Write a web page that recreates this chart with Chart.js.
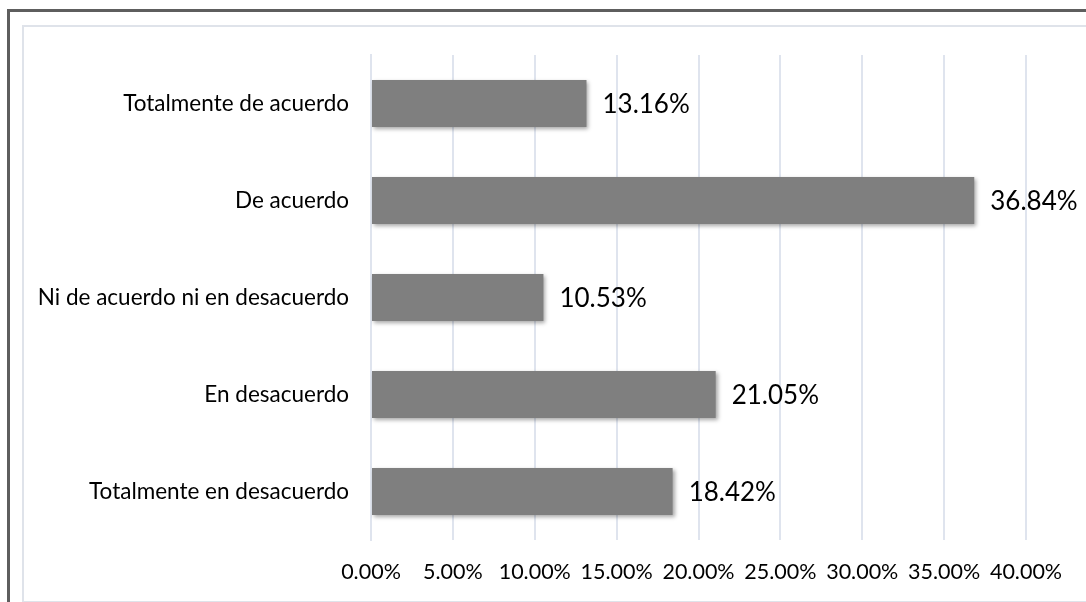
<!DOCTYPE html>
<html>
<head>
<meta charset="utf-8">
<script src="https://cdn.jsdelivr.net/npm/chart.js@4"></script>
<style>
  html, body { margin: 0; padding: 0; background: #fff; overflow: hidden; }
  #wrap { position: relative; width: 1086px; height: 602px; }
  #outer { position: absolute; left: 7px; top: 9px; width: 1100px; height: 620px;
           border-left: 3px solid #5e5e5e; border-top: 3px solid #5e5e5e; }
  #inner { position: absolute; left: 22px; top: 25px; width: 1100px; height: 574px;
           border: 2px solid #dfe3ea; }
  canvas { position: absolute; left: 0; top: 0; }
</style>
</head>
<body>
<div id="wrap">
  <div id="outer"></div>
  <div id="inner"></div>
  <canvas id="barChart" width="1086" height="602"></canvas>
</div>
<script>
// Datos del gráfico
const categorias = [
  "Totalmente de acuerdo",
  "De acuerdo",
  "Ni de acuerdo ni en desacuerdo",
  "En desacuerdo",
  "Totalmente en desacuerdo"
];
const porcentajes = [13.16, 36.84, 10.53, 21.05, 18.42];
const etiquetas = ["13.16%", "36.84%", "10.53%", "21.05%", "18.42%"];
const ticksX = [0, 5, 10, 15, 20, 25, 30, 35, 40];

const FONT = "Lato, 'Liberation Sans', sans-serif";

// Sombra de las barras + etiquetas de datos
const sombraPlugin = {
  id: "sombra",
  beforeDatasetsDraw(chart) {
    const ctx = chart.ctx;
    ctx.save();
    ctx.shadowColor = "rgba(0,0,0,0.35)";
    ctx.shadowBlur = 4;
    ctx.shadowOffsetX = 2;
    ctx.shadowOffsetY = 2;
  },
  afterDatasetsDraw(chart) {
    const ctx = chart.ctx;
    ctx.restore();
    const meta = chart.getDatasetMeta(0);
    ctx.save();
    ctx.font = "26px " + FONT;
    ctx.fillStyle = "#000";
    ctx.textAlign = "left";
    ctx.textBaseline = "middle";
    meta.data.forEach((bar, i) => {
      ctx.fillText(etiquetas[i], bar.x + 16, bar.y + 1);
    });
    ctx.restore();
  }
};

const ctx = document.getElementById("barChart").getContext("2d");
new Chart(ctx, {
  type: "bar",
  data: {
    labels: categorias,
    datasets: [{
      data: porcentajes,
      backgroundColor: "#7f7f7f",
      borderWidth: 0,
      categoryPercentage: 1,
      barPercentage: 0.485
    }]
  },
  options: {
    indexAxis: "y",
    responsive: false,
    animation: false,
    layout: {
      padding: { top: 55, bottom: 0, left: 0, right: 60 }
    },
    plugins: {
      legend: { display: false },
      tooltip: { enabled: false }
    },
    scales: {
      x: {
        min: 0,
        max: 40,
        afterBuildTicks: (scale) => {
          scale.ticks = ticksX.map(v => ({ value: v }));
        },
        afterFit: (scale) => { scale.height = 62; },
        grid: { color: "#dfe4ee", lineWidth: 2, drawTicks: false },
        border: { display: false },
        ticks: {
          padding: 19,
          color: "#000",
          font: { family: FONT, size: 21.5 },
          maxRotation: 0,
          autoSkip: false,
          callback: (v) => Number(v).toFixed(2) + "%"
        }
      },
      y: {
        afterFit: (scale) => { scale.width = 371; },
        grid: { display: false, drawTicks: false },
        border: { display: true, color: "#dfe4ee", width: 2 },
        ticks: {
          padding: 22,
          color: "#000",
          font: { family: FONT, size: 22.5 }
        }
      }
    }
  },
  plugins: [sombraPlugin]
});
</script>
</body>
</html>
